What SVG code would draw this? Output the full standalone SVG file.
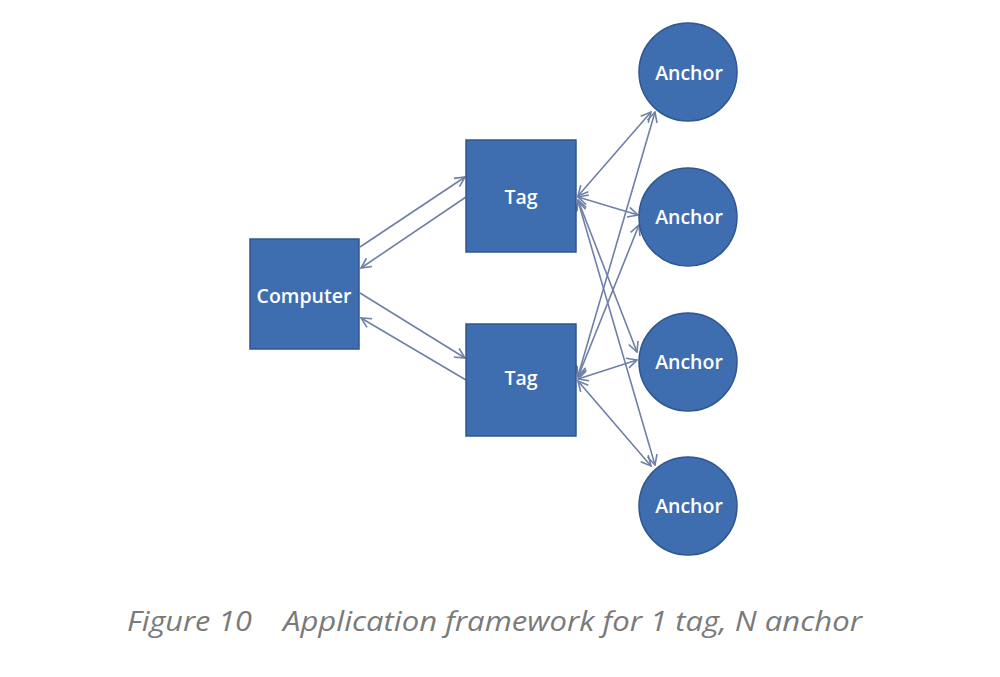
<svg xmlns="http://www.w3.org/2000/svg" width="1000" height="677" viewBox="0 0 1000 677">
<style>
.box{fill:#3e6db0;stroke:#2f5790;stroke-width:1.5}
.lbl{font-family:"Open Sans","DejaVu Sans",sans-serif;font-size:19.5px;font-weight:600;fill:#ffffff;text-anchor:middle}
.conn line{stroke:#6f80a6;stroke-width:1.6;fill:none}
.cap{font-family:"Open Sans","DejaVu Sans",sans-serif;font-style:italic;font-size:27px;fill:#7a7a7a}
</style>
<defs>
<marker id="ah" viewBox="0 0 12 12" refX="11" refY="6" markerWidth="12" markerHeight="12" markerUnits="userSpaceOnUse" orient="auto-start-reverse">
<path d="M1,1 L11,6 L1,11" fill="none" stroke="#6f80a6" stroke-width="1.6"/>
</marker>
</defs>
<rect width="1000" height="677" fill="#ffffff"/>
<g class="conn">
<line x1="360" y1="247" x2="465" y2="177" marker-end="url(#ah)"/>
<line x1="466" y1="197" x2="361" y2="268" marker-end="url(#ah)"/>
<line x1="360" y1="293" x2="465" y2="358" marker-end="url(#ah)"/>
<line x1="466" y1="380" x2="361" y2="318" marker-end="url(#ah)"/>
<line x1="578" y1="196" x2="651" y2="112" marker-start="url(#ah)" marker-end="url(#ah)"/>
<line x1="578" y1="197" x2="638" y2="215" marker-start="url(#ah)" marker-end="url(#ah)"/>
<line x1="578" y1="200" x2="637" y2="352" marker-start="url(#ah)" marker-end="url(#ah)"/>
<line x1="578" y1="201" x2="655" y2="465" marker-start="url(#ah)" marker-end="url(#ah)"/>
<line x1="578" y1="376" x2="655" y2="112" marker-start="url(#ah)" marker-end="url(#ah)"/>
<line x1="578" y1="377" x2="639" y2="225" marker-start="url(#ah)" marker-end="url(#ah)"/>
<line x1="578" y1="379" x2="637" y2="360" marker-start="url(#ah)" marker-end="url(#ah)"/>
<line x1="578" y1="381" x2="651" y2="466" marker-start="url(#ah)" marker-end="url(#ah)"/>
</g>
<g id="computer"><rect class="box" x="250" y="239" width="109" height="110"/><text class="lbl" x="304" y="303">Computer</text></g>
<g id="tag1"><rect class="box" x="466" y="140" width="110" height="112"/><text class="lbl" x="521" y="204">Tag</text></g>
<g id="tag2"><rect class="box" x="466" y="324" width="110" height="112"/><text class="lbl" x="521" y="385">Tag</text></g>
<g id="anchor1"><circle class="box" cx="688" cy="72" r="49"/><text class="lbl" x="689" y="80">Anchor</text></g>
<g id="anchor2"><circle class="box" cx="688" cy="217" r="49"/><text class="lbl" x="689" y="224">Anchor</text></g>
<g id="anchor3"><circle class="box" cx="688" cy="362" r="49"/><text class="lbl" x="689" y="369">Anchor</text></g>
<g id="anchor4"><circle class="box" cx="688" cy="506" r="49"/><text class="lbl" x="689" y="513">Anchor</text></g>
<g id="caption"><text class="cap" x="127" y="631" textLength="125" lengthAdjust="spacingAndGlyphs">Figure 10</text><text class="cap" x="283" y="631" textLength="579" lengthAdjust="spacingAndGlyphs">Application framework for 1 tag, N anchor</text></g>
</svg>
